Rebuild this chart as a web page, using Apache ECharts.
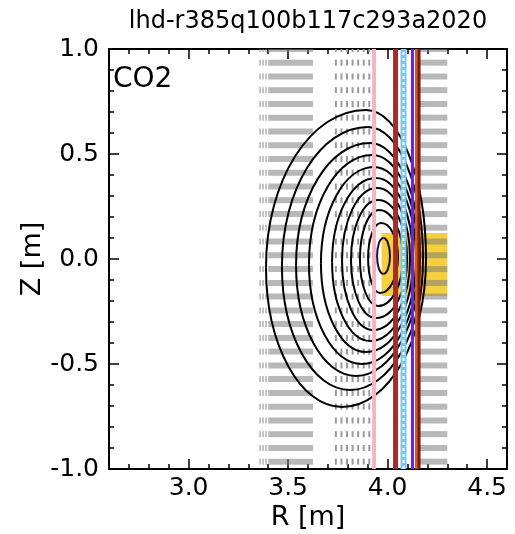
<!DOCTYPE html>
<html><head><meta charset="utf-8">
<script src="https://cdn.jsdelivr.net/npm/echarts@6/dist/echarts.min.js"></script>
<style>html,body{margin:0;padding:0;background:#fff}#c{width:515px;height:534px}</style>
</head><body><div id="c"></div>
<script>
// ---- text ----
const chartTitle = 'lhd-r385q100b117c293a2020';
const panelLabel = 'CO2';
const xName = 'R [m]';
const yName = 'Z [m]';
// ---- axes ----
const xRange = [2.6, 4.6];
const yRange = [-1.0, 1.0];
const xMajorTicks = [3.0, 3.5, 4.0, 4.5];
// ---- channel rows (Z of each horizontal chord) ----
const rowZ = [1.000, 0.935, 0.869, 0.804, 0.738, 0.673, 0.607, 0.542, 0.476, 0.411,
              0.345, 0.280, 0.214, 0.149, 0.083, 0.018, -0.048, -0.114, -0.179, -0.245,
              -0.310, -0.376, -0.441, -0.507, -0.572, -0.638, -0.703, -0.769, -0.834, -0.900, -0.965];
const blockATicks = [3.359, 3.374, 3.389];
const blockABar = [3.400, 3.625];
const blockBTicks = [3.740, 3.768, 3.796, 3.824, 3.852, 3.880, 3.908];
const blockCBar = [4.160, 4.300];
// yellow region: Rmin, Rmax, Zmin, Zmax
const yellowBox = [3.970, 4.300, -0.176, 0.124];
// ---- flux-surface contours (outer -> inner) ----
const contLeftR  = [3.389, 3.469, 3.540, 3.605, 3.665, 3.721, 3.771, 3.816, 3.861, 3.902, 3.947];
const contLeftZ  = [-0.040, -0.035, -0.030, -0.025, -0.020, -0.015, -0.010, -0.005, 0.000, 0.005, 0.014];
const contRightR = [4.193, 4.178, 4.163, 4.153, 4.143, 4.128, 4.113, 4.098, 4.077, 4.052, 4.012];
const contRightZ = [0.000, 0.000, 0.000, 0.000, 0.000, 0.000, 0.000, 0.000, 0.005, 0.010, 0.014];
const contTopR   = [3.891, 3.901, 3.912, 3.922, 3.932, 3.942, 3.947, 3.952, 3.957, 3.967, 3.979];
const contTopZ   = [0.710, 0.629, 0.552, 0.495, 0.438, 0.386, 0.338, 0.281, 0.233, 0.171, 0.100];
const contBotR   = [3.771, 3.811, 3.841, 3.871, 3.891, 3.912, 3.927, 3.942, 3.952, 3.962, 3.979];
const contBotZ   = [-0.705, -0.624, -0.557, -0.500, -0.443, -0.390, -0.338, -0.281, -0.224, -0.162, -0.071];
// ---- vertical lines of sight ----
const vlineR = [3.932, 4.040, 4.080, 4.125, 4.145, 4.158];
const vlineColor = ['#F5B3C3', '#A32C2C', '#7CC6E6', '#6A22E6', '#C0621C', '#861414'];
const vlineWidth = [4, 5, 6, 3, 3, 3];
const dashedOverlayIndex = 2;

const FONT = 'DejaVu Sans';

function renderRow(params, api) {
  const z = api.value(1);
  const h = 6;
  const kids = [];
  const c = (r) => api.coord([r, z]);
  blockATicks.forEach(r => {
    const p = c(r);
    kids.push({type: 'line', shape: {x1: p[0], y1: p[1] - h / 2, x2: p[0], y2: p[1] + h / 2},
      style: {stroke: '#8c8c8c', lineWidth: 1}});
  });
  const a0 = c(blockABar[0]), a1 = c(blockABar[1]);
  kids.push({type: 'rect', shape: {x: a0[0], y: a0[1] - h / 2, width: a1[0] - a0[0], height: h},
    style: {fill: 'rgba(125,125,125,0.55)'}});
  blockBTicks.forEach(r => {
    const p = c(r);
    kids.push({type: 'line', shape: {x1: p[0], y1: p[1] - h / 2, x2: p[0], y2: p[1] + h / 2},
      style: {stroke: '#9a9a9a', lineWidth: 2}});
  });
  const c0 = c(blockCBar[0]), c1 = c(blockCBar[1]);
  kids.push({type: 'rect', shape: {x: c0[0], y: c0[1] - h / 2, width: c1[0] - c0[0], height: h},
    style: {fill: 'rgba(125,125,125,0.55)'}});
  return {type: 'group', children: kids};
}

function renderBox(params, api) {
  const p0 = api.coord([api.value(0), api.value(3)]);
  const p1 = api.coord([api.value(1), api.value(2)]);
  return {type: 'rect', shape: {x: p0[0], y: p0[1], width: p1[0] - p0[0], height: p1[1] - p0[1]},
    style: {fill: '#F4D03C'}};
}

function renderContour(params, api) {
  const L = api.coord([api.value(0), api.value(1)]);
  const R = api.coord([api.value(2), api.value(3)]);
  const T = api.coord([api.value(4), api.value(5)]);
  const B = api.coord([api.value(6), api.value(7)]);
  const k = 0.5523;
  const st = {stroke: params.dataIndex === contLeftR.length - 1 ? '#1c0c3c' : '#000', lineWidth: 2, fill: null};
  const seg = (x1, y1, cx1, cy1, cx2, cy2, x2, y2) => ({type: 'bezierCurve',
    shape: {x1, y1, cpx1: cx1, cpy1: cy1, cpx2: cx2, cpy2: cy2, x2, y2}, style: st});
  return {type: 'group', children: [
    seg(T[0], T[1], T[0] - k * (T[0] - L[0]), T[1], L[0], L[1] - k * (L[1] - T[1]), L[0], L[1]),
    seg(L[0], L[1], L[0], L[1] + k * (B[1] - L[1]), B[0] - k * (B[0] - L[0]), B[1], B[0], B[1]),
    seg(B[0], B[1], B[0] + k * (R[0] - B[0]), B[1], R[0], R[1] + k * (B[1] - R[1]), R[0], R[1]),
    seg(R[0], R[1], R[0], R[1] - k * (R[1] - T[1]), T[0] + k * (R[0] - T[0]), T[1], T[0], T[1])
  ]};
}

const contourData = contLeftR.map((_, i) => [contLeftR[i], contLeftZ[i], contRightR[i], contRightZ[i],
  contTopR[i], contTopZ[i], contBotR[i], contBotZ[i]]);

const series = [
  {type: 'custom', renderItem: renderBox, data: [yellowBox], clip: true, z: 1,
   encode: {x: [0, 1], y: [2, 3]}},
  {type: 'custom', renderItem: renderRow, data: rowZ.map(z => [blockABar[0], z]), clip: true, z: 2,
   encode: {x: 0, y: 1}},
  {type: 'custom', renderItem: renderContour, data: contourData, clip: true, z: 3,
   encode: {x: [0, 2], y: [5, 7]}}
];
vlineR.forEach((r, i) => {
  series.push({type: 'line', data: [[r, yRange[0]], [r, yRange[1]]], symbol: 'none', z: 4,
    lineStyle: {color: vlineColor[i], width: vlineWidth[i]}, silent: true});
  if (i === dashedOverlayIndex) {
    series.push({type: 'line', data: [[r, yRange[0]], [r, yRange[1]]], symbol: 'none', z: 5,
      lineStyle: {color: '#ffffff', width: 2, type: [3, 3]}, silent: true});
  }
});

const axisLineStyle = {show: true, onZero: false, lineStyle: {color: '#000', width: 2}};
const noLine = {show: false, onZero: false};
const tickStyle = {color: '#000', width: 1.5};
const lbl = {color: '#000', fontFamily: FONT, fontSize: 25};

const option = {
  animation: false,
  backgroundColor: '#fff',
  grid: {left: 109, top: 49, right: 8, bottom: 65, containLabel: false, outerBoundsMode: 'none'},
  graphic: [
    {type: 'text', x: 308, y: 10, style: {text: chartTitle, font: '24px "DejaVu Sans"', fill: '#000', textAlign: 'center', textVerticalAlign: 'top'}},
    {type: 'text', x: 113, y: 66, style: {text: panelLabel, font: '28px "DejaVu Sans"', fill: '#000'}}
  ],
  xAxis: [
    {type: 'value', min: xRange[0], max: xRange[1], interval: 0.1, position: 'bottom',
     axisLine: axisLineStyle, axisTick: {show: true, inside: true, length: 5, lineStyle: tickStyle},
     axisLabel: {show: false}, splitLine: {show: false},
     name: xName, nameLocation: 'middle', nameGap: 35, nameTextStyle: {color: '#000', fontFamily: FONT, fontSize: 27}},
    {type: 'value', min: xRange[0], max: xRange[1], position: 'bottom',
     axisLine: noLine, axisTick: {show: true, inside: true, length: 10, customValues: xMajorTicks, lineStyle: tickStyle},
     axisLabel: Object.assign({show: true, margin: 7, customValues: xMajorTicks, formatter: v => v.toFixed(1)}, lbl), splitLine: {show: false}},
    {type: 'value', min: xRange[0], max: xRange[1], interval: 0.1, position: 'top',
     axisLine: axisLineStyle, axisTick: {show: true, inside: true, length: 5, lineStyle: tickStyle},
     axisLabel: {show: false}, splitLine: {show: false}},
    {type: 'value', min: xRange[0], max: xRange[1], position: 'top',
     axisLine: noLine, axisTick: {show: true, inside: true, length: 10, customValues: xMajorTicks, lineStyle: tickStyle},
     axisLabel: {show: false, customValues: xMajorTicks}, splitLine: {show: false}}
  ],
  yAxis: [
    {type: 'value', min: yRange[0], max: yRange[1], interval: 0.1, position: 'left',
     axisLine: axisLineStyle, axisTick: {show: true, inside: true, length: 5, lineStyle: tickStyle},
     axisLabel: {show: false}, splitLine: {show: false},
     name: yName, nameLocation: 'middle', nameGap: 63, nameRotate: 90, nameTextStyle: {color: '#000', fontFamily: FONT, fontSize: 27}},
    {type: 'value', min: yRange[0], max: yRange[1], interval: 0.5, position: 'left',
     axisLine: noLine, axisTick: {show: true, inside: true, length: 10, lineStyle: tickStyle},
     axisLabel: Object.assign({show: true, margin: 10, formatter: v => v.toFixed(1)}, lbl), splitLine: {show: false}},
    {type: 'value', min: yRange[0], max: yRange[1], interval: 0.1, position: 'right',
     axisLine: axisLineStyle, axisTick: {show: true, inside: true, length: 5, lineStyle: tickStyle},
     axisLabel: {show: false}, splitLine: {show: false}},
    {type: 'value', min: yRange[0], max: yRange[1], interval: 0.5, position: 'right',
     axisLine: noLine, axisTick: {show: true, inside: true, length: 10, lineStyle: tickStyle},
     axisLabel: {show: false}, splitLine: {show: false}}
  ],
  series: series
};

const chart = echarts.init(document.getElementById('c'), null, {renderer: 'canvas'});
chart.setOption(option);
</script>
</body></html>
